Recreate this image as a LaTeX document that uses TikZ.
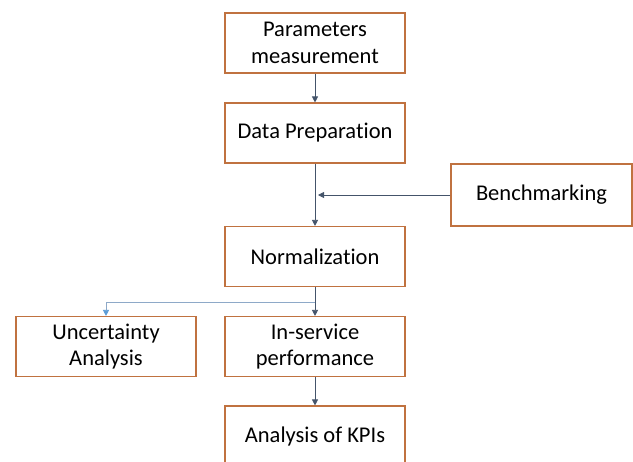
\documentclass[tikz,border=0pt]{standalone}
\usepackage{fontspec}
\setmainfont{Carlito}[Ligatures=NoCommon]
\usetikzlibrary{arrows.meta}
\definecolor{boxedge}{HTML}{C07240}
\definecolor{linkgray}{HTML}{44546A}
\definecolor{linkblue}{HTML}{8EA9C8}
\definecolor{tipblue}{HTML}{5B9BD5}
\tikzset{
  stage/.style={draw=boxedge, line width=1.1pt, fill=white, minimum width=180pt,
    minimum height=60pt, inner sep=2pt, align=center, font=\fontsize{22.5}{26.5}\selectfont},
  link/.style={draw=linkgray, line width=0.8pt, -{Triangle[length=6pt,width=6pt]}},
  sidelink/.style={draw=linkblue, line width=0.8pt, -{Triangle[length=6pt,width=6pt,fill=tipblue,color=tipblue]}}
}
\begin{document}
\begin{tikzpicture}[x=1pt,y=-1pt]
  \useasboundingbox (0,0) rectangle (633,462);
  \clip (0,0) rectangle (633,462);
  \node[stage] (param) at (315,43) {Parameters\\measurement};
  \node[stage] (prep) at (315,133) {Data Preparation};
  \node[stage, minimum width=181pt, minimum height=62pt] (bench) at (541.5,195) {Benchmarking};
  \node[stage] (norm) at (315,256.5) {Normalization};
  \node[stage] (unc) at (106,346.5) {Uncertainty\\Analysis};
  \node[stage] (serv) at (315,346.5) {In-service\\performance};
  \node[stage, minimum height=62pt] (kpi) at (315,437) {Analysis of KPIs};
  \coordinate (join) at (318,195);
  \coordinate (split) at (315,302);
  \draw[link] (param) -- (prep);
  \draw[link] (prep) -- (norm);
  \draw[link] (bench.west) -- (join);
  \draw[link] (norm) -- (serv);
  \draw[sidelink] (split) -| (unc.north);
  \draw[link] (serv) -- (kpi);
\end{tikzpicture}
\end{document}
